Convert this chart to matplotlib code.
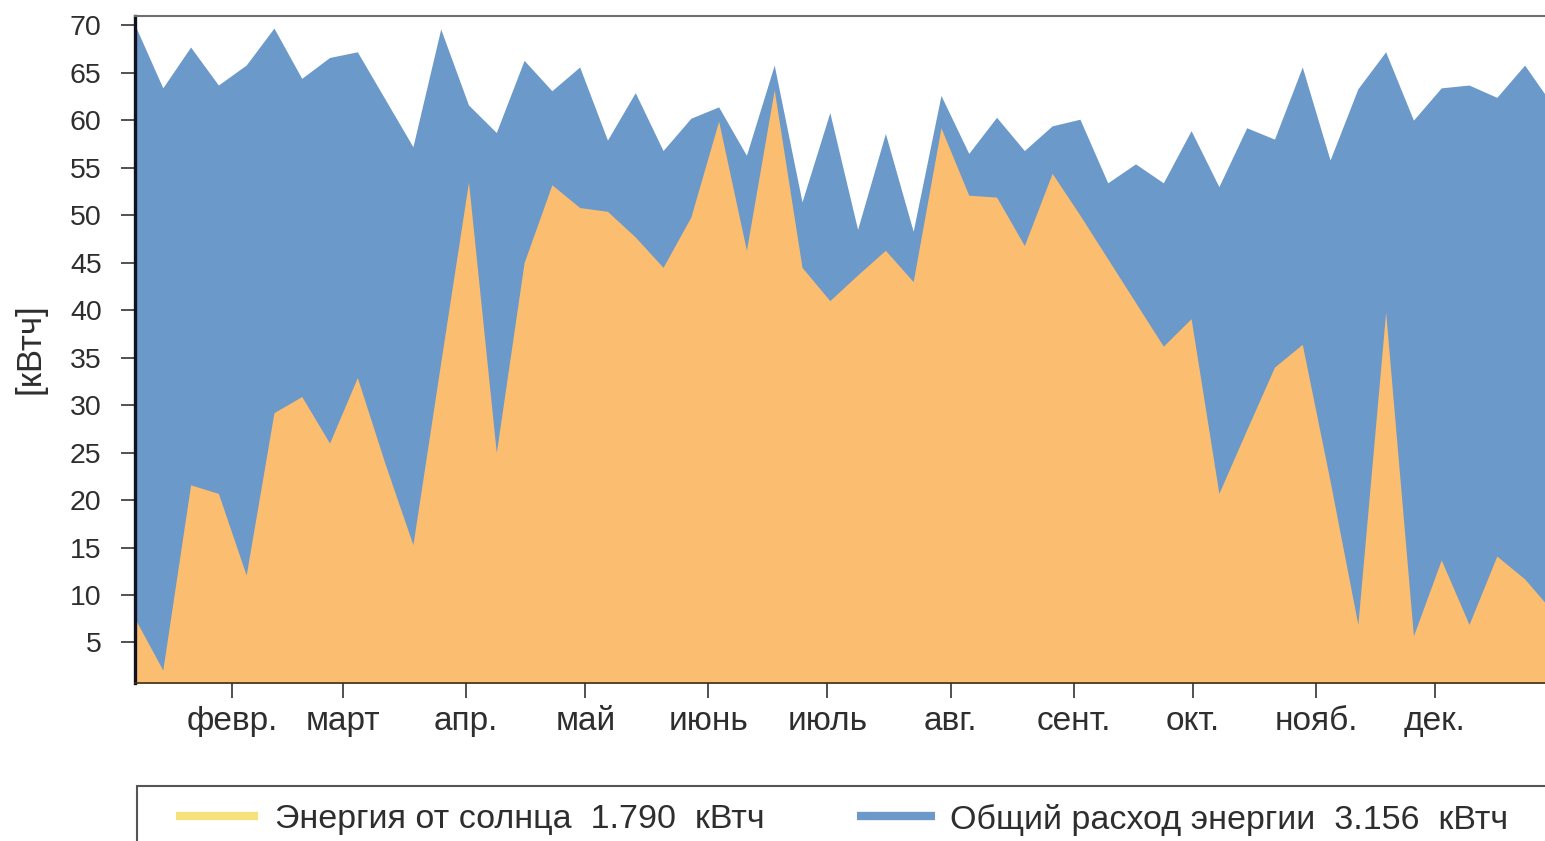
import matplotlib
matplotlib.use("Agg")
import matplotlib.pyplot as plt
import numpy as np
import pandas as pd
from matplotlib.lines import Line2D
from matplotlib.patches import Rectangle

plt.rcParams['font.family'] = ['Liberation Sans', 'DejaVu Sans']

# ---- data (weekly values, kWh) ----
dates = pd.date_range('2021-01-07 14:00', periods=52, freq='7D')
total = [70.0, 63.4, 67.7, 63.7, 65.8, 69.7, 64.4, 66.6, 67.2, 62.2,
         57.2, 69.6, 61.6, 58.7, 66.3, 63.1, 65.6, 57.9, 62.9, 56.8,
         60.2, 61.4, 56.3, 65.8, 51.4, 60.8, 48.5, 58.6, 48.3, 62.6,
         56.5, 60.3, 56.8, 59.4, 60.1, 53.4, 55.4, 53.4, 58.9, 53.0,
         59.2, 58.0, 65.6, 55.8, 63.3, 67.2, 60.0, 63.4, 63.7, 62.4,
         65.8, 61.6]
solar = [7.5, 2.1, 21.6, 20.7, 12.1, 29.2, 30.9, 26.0, 32.9, 23.8,
         15.3, 34.5, 53.5, 25.0, 45.0, 53.2, 50.8, 50.4, 47.7, 44.5,
         49.8, 59.9, 46.3, 63.2, 44.5, 41.0, 43.7, 46.3, 43.0, 59.2,
         52.1, 51.9, 46.8, 54.4, 50.0, 45.4, 40.8, 36.2, 39.1, 20.7,
         27.4, 34.0, 36.4, 22.0, 6.9, 39.8, 5.7, 13.7, 6.9, 14.1,
         11.7, 8.3]
month_ticks = ['2021-02-01', '2021-03-01', '2021-04-01', '2021-05-01', '2021-06-01',
               '2021-07-01', '2021-08-01', '2021-09-01', '2021-10-01', '2021-11-01',
               '2021-12-01']
month_labels = ['февр.', 'март', 'апр.', 'май', 'июнь', 'июль', 'авг.', 'сент.',
                'окт.', 'нояб.', 'дек.']
y_ticks = list(range(5, 75, 5))
legend_labels = ['Энергия от солнца  1.790  кВтч', 'Общий расход энергии  3.156  кВтч']

c_blue = '#6a99ca'
c_orange = '#fbbd6f'
c_yellow = '#f6e27c'
c_text = '#2e2e2e'

W, H = 1545, 841
fig = plt.figure(figsize=(W / 100, H / 100), dpi=100)
ax = fig.add_axes([135 / W, 1 - 683.3 / H, (1552.4 - 135) / W, (683.3 - 15.7) / H])

ax.fill_between(dates, 0, total, color=c_blue, lw=0)
ax.fill_between(dates, 0, solar, color=c_orange, lw=0)

ax.set_xlim(dates[0], dates[-1])
ax.set_ylim(0.7, 71.0)
ax.set_yticks(y_ticks)
ax.set_yticklabels([str(v) for v in y_ticks])
ax.set_xticks(pd.to_datetime(month_ticks))
ax.set_xticklabels(month_labels)

ax.tick_params(axis='y', length=10, width=1.2, color='#333333', pad=14,
               labelsize=20.5, labelcolor=c_text)
ax.tick_params(axis='x', length=10.5, width=1.2, color='#333333', pad=6,
               labelsize=24, labelcolor=c_text)

ax.spines['left'].set_linewidth(2.4)
ax.spines['left'].set_color('#111122')
ax.spines['bottom'].set_linewidth(1.2)
ax.spines['bottom'].set_color('#3a3020')
ax.spines['top'].set_linewidth(1.5)
ax.spines['top'].set_color('#6e6e6e')
ax.spines['right'].set_visible(False)

fig.text(30 / W, 1 - 349 / H, '[кВтч]', rotation=90, ha='center', va='center',
         fontsize=25, color=c_text)

# ---- legend (box runs off the figure edges as in the original) ----
fig.add_artist(Rectangle((137 / W, -0.1), 1.2, (1 - 786 / H) + 0.1,
                         transform=fig.transFigure, fill=False,
                         edgecolor='#555555', lw=1.5))
ly = 1 - 816 / H
fig.add_artist(Line2D([176 / W, 258 / W], [ly, ly], transform=fig.transFigure,
                      color=c_yellow, lw=6, solid_capstyle='butt'))
fig.text(275 / W, ly, legend_labels[0], ha='left', va='center_baseline', fontsize=24.5, color=c_text)
fig.add_artist(Line2D([857 / W, 935 / W], [ly, ly], transform=fig.transFigure,
                      color=c_blue, lw=6, solid_capstyle='butt'))
fig.text(950 / W, ly, legend_labels[1], ha='left', va='center_baseline', fontsize=24.5, color=c_text)

fig.savefig('out.png', dpi=100)
